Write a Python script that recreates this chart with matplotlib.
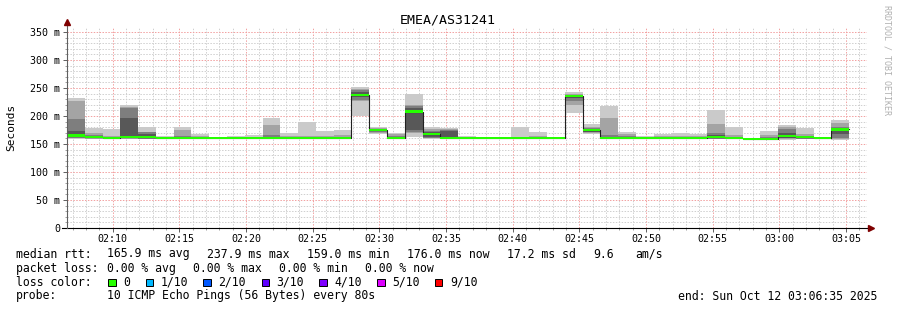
import numpy as np
import matplotlib
matplotlib.use('Agg')
import matplotlib.pyplot as plt
from matplotlib.patches import Rectangle

# ------------------------------------------------------------------
# data (values in ms, one entry per 80 s step)
title = 'EMEA/AS31241'
t_start = 6 + 35 / 60      # 02:06:35 as minutes after 02:00
t_end = 66 + 35 / 60       # 03:06:35
step = 80 / 60

median = [165, 162, 161, 163, 162, 161, 161, 161, 161, 161,
          161, 161, 161, 161, 161, 161, 238, 175, 161, 208,
          168, 161, 161, 161, 161, 161, 161, 161, 235.5, 175,
          161, 161, 161, 161, 161, 161, 162, 161, 159, 159,
          164, 162, 161, 176]

# smoke bands: outer (ping1..ping10) to inner (ping4..ping7)
hi1 = [233, 179, 177, 220, 180, 165, 181, 168, 162, 165,
       166, 197, 169, 190, 173, 175, 252, 180, 170, 240,
       181, 179, 164, 163, 162, 180, 171, 161.5, 242, 186,
       218, 172, 164, 168, 170, 168, 210, 180, 160, 173,
       184, 179, 162, 193]
hi2 = [226, 170, 164, 216, 172, 163, 175, 165, 161.5, 163,
       163, 184, 165, 165, 164, 166, 248, 178, 167, 220,
       177, 176, 162, 162, 161.5, 163, 164, 161, 239, 181,
       197, 168, 162, 164, 165, 164, 185, 166, 159.5, 166,
       180, 168, 161.5, 188]
hi3 = [195, 166, 163, 215, 171, 162, 164, 163, 161, 162.5,
       162, 166, 163, 163, 162.5, 163, 246, 177, 165, 217,
       174, 175, 161.5, 161.5, 161, 162, 162.5, 161, 238, 178,
       166, 164, 161.5, 162, 162.5, 162, 170, 163, 159, 162,
       177, 165, 161, 181]
hi4 = [174, 164, 162, 197, 168, 161.5, 162, 162, 161, 162,
       161.5, 163, 162, 162, 162, 162, 242, 176, 163, 214,
       171, 174, 161, 161, 161, 161.5, 162, 161, 237, 177,
       163, 162, 161, 161.5, 162, 161.5, 166, 162, 159, 161,
       170, 164, 161, 178]
lo4 = [162, 160.5, 160, 161, 160.5, 160, 160, 160, 160, 160,
       160, 160, 160, 160, 160, 160, 234, 174, 160, 175,
       163, 160, 160, 160, 160, 160, 160, 160, 232, 172,
       160, 160, 160, 160, 160, 160, 160, 160, 158.5, 158.5,
       161, 160.5, 160, 168]
lo3 = [161, 160, 159.5, 160, 159.5, 159.5, 159.5, 159.5, 159.5, 159.5,
       159.5, 159.5, 159.5, 159.5, 159.5, 159.5, 228, 172, 159.5, 172,
       161, 159.5, 159.5, 159.5, 159.5, 159.5, 159.5, 159.5, 226, 171,
       159.5, 159.5, 159.5, 159.5, 159.5, 159.5, 159.5, 159.5, 158, 158,
       160, 159.5, 159.5, 160]
lo2 = [160, 159, 159, 159, 159, 159, 159, 159, 159, 159,
       159, 159, 159, 159, 159, 159, 226, 170, 159, 169,
       160, 159, 159, 159, 159, 159, 159, 159, 220, 170,
       159, 159, 159, 159, 159, 159, 159, 159, 157.5, 157.5,
       159, 159, 159, 159]
lo1 = [158.5, 158.5, 158.5, 158.5, 158.5, 158.5, 158.5, 158.5, 158.5, 158.5,
       158.5, 158.5, 158.5, 158.5, 158.5, 158.5, 200, 167, 158.5, 163,
       159, 158.5, 158.5, 158.5, 158.5, 158.5, 158.5, 158.5, 206, 168,
       158.5, 158.5, 158.5, 158.5, 158.5, 158.5, 158.5, 158.5, 157, 157,
       158, 158.5, 158.5, 158]

smoke_colors = ['#cacaca', '#a4a4a4', '#7e7e7e', '#585858']

xtick_pos = [10, 15, 20, 25, 30, 35, 40, 45, 50, 55, 60, 65]
xtick_labels = ['02:10', '02:15', '02:20', '02:25', '02:30', '02:35',
                '02:40', '02:45', '02:50', '02:55', '03:00', '03:05']
ytick_pos = [0, 50, 100, 150, 200, 250, 300, 350]
ytick_labels = ['0', '50 m', '100 m', '150 m', '200 m', '250 m', '300 m', '350 m']

rtt_stats = ['165.9 ms avg', '237.9 ms max', '159.0 ms min', '176.0 ms now', '17.2 ms sd', '9.6', 'am/s']
loss_stats = ['0.00 % avg', '0.00 % max', '0.00 % min', '0.00 % now']
loss_labels = ['0', '1/10', '2/10', '3/10', '4/10', '5/10', '9/10']
loss_colors = ['#26ff00', '#00b8ff', '#0059ff', '#5e00ff', '#7e00ff', '#dd00ff', '#ff0000']
probe_text = '10 ICMP Echo Pings (56 Bytes) every 80s'
end_text = 'end: Sun Oct 12 03:06:35 2025'

# ------------------------------------------------------------------
W, H = 897, 310
plt.rcParams['font.family'] = 'DejaVu Sans Mono'

fig = plt.figure(figsize=(W / 100, H / 100), dpi=100, facecolor='white')
ax = fig.add_axes([67 / W, 82 / H, 800 / W, 200 / H])
ymax = 200 / 0.56
ax.set_xlim(t_start, t_end)
ax.set_ylim(0, ymax)

n = len(median)
edges = t_start + step * np.arange(n + 1)


def ext(v):
    v = np.asarray(v, dtype=float)
    return np.r_[v, v[-1]]


# smoke
bands = [(lo1, hi1), (lo2, hi2), (lo3, hi3), (lo4, hi4)]
for (lo, hi), col in zip(bands, smoke_colors):
    ax.fill_between(edges, ext(lo), ext(hi), step='post', color=col, lw=0, zorder=1)

# median line + loss coloured band
ax.step(edges, ext(median), where='post', color='#202020', lw=0.8, zorder=3)
med = np.asarray(median, dtype=float)
ax.fill_between(edges, ext(med - 2), ext(med + 2), step='post',
                color=loss_colors[0], lw=0, zorder=4)

# grid
ax.set_xticks(xtick_pos)
ax.set_xticklabels(xtick_labels)
ax.set_xticks([m for m in range(7, 67) if m % 5], minor=True)
ax.set_yticks(ytick_pos)
ax.set_yticklabels(ytick_labels)
ax.set_yticks([v for v in range(10, 360, 10) if v % 50], minor=True)
ax.set_axisbelow(True)
ax.grid(which='minor', color='#cfcfcf', ls=(0, (1.5, 1.5)), lw=0.7)
ax.grid(which='major', color='#f2a0a0', ls=(0, (1.5, 1.5)), lw=0.7)

ax.tick_params(which='major', length=3, width=0.7, color='#606060', labelsize=7.2)
ax.tick_params(which='minor', length=1.2, width=0.6, color='#909090')
ax.tick_params(axis='y', pad=2)
ax.tick_params(axis='x', pad=1.5)
for s in ax.spines.values():
    s.set_visible(False)

# axis lines with arrows
px_x = 60 / 800
ax.plot([t_start - 5 * px_x, t_end + 3 * px_x], [0, 0], color='black', lw=0.8,
        clip_on=False, zorder=5)
ax.plot([t_start, t_start], [0, 367], color='#606060', lw=0.8, clip_on=False, zorder=5)
ax.plot([t_end + 4 * px_x], [0], marker='>', ms=4, color='#7f0000', clip_on=False, zorder=6)
ax.plot([t_start], [368], marker='^', ms=4, color='#7f0000', clip_on=False, zorder=6)

# titles
fig.text(448 / W, 1 - 20 / H, title, ha='center', va='center', fontsize=9.5)
fig.text(11 / W, 1 - 127 / H, 'Seconds', rotation=90, ha='center', va='center', fontsize=8)
fig.text(887 / W, 1 - 5 / H, 'RRDTOOL / TOBI OETIKER', rotation=270, ha='center', va='top',
         fontsize=6, color='#b0b0b0')

# legend
fs = 8.3


def put(x, y, s, **kw):
    fig.text(x / W, 1 - y / H, s, va='center', ha='left', fontsize=fs, **kw)


put(16, 254, 'median rtt:')
for x, s in zip([107.3, 207.3, 306.7, 407.3, 506.7, 593.3, 635], rtt_stats):
    put(x, 254, s)

put(16, 268.3, 'packet loss:')
for x, s in zip([107.3, 193.3, 279.3, 365.3], loss_stats):
    put(x, 268.3, s)

put(16, 282.3, 'loss color:')
sq_x = [108.3, 145.7, 203.3, 261.7, 319.3, 377.3, 435]
for x, lab, col in zip(sq_x, loss_labels, loss_colors):
    fig.patches.append(Rectangle((x / W, 1 - 286 / H), 7.3 / W, 7.3 / H,
                                 transform=fig.transFigure, facecolor=col,
                                 edgecolor='black', lw=0.7))
    put(x + 15, 282.3, lab)

put(16, 296, 'probe:')
put(107.3, 296, probe_text)
put(678.3, 296, end_text)

fig.savefig('out.png', dpi=100, facecolor='white')
